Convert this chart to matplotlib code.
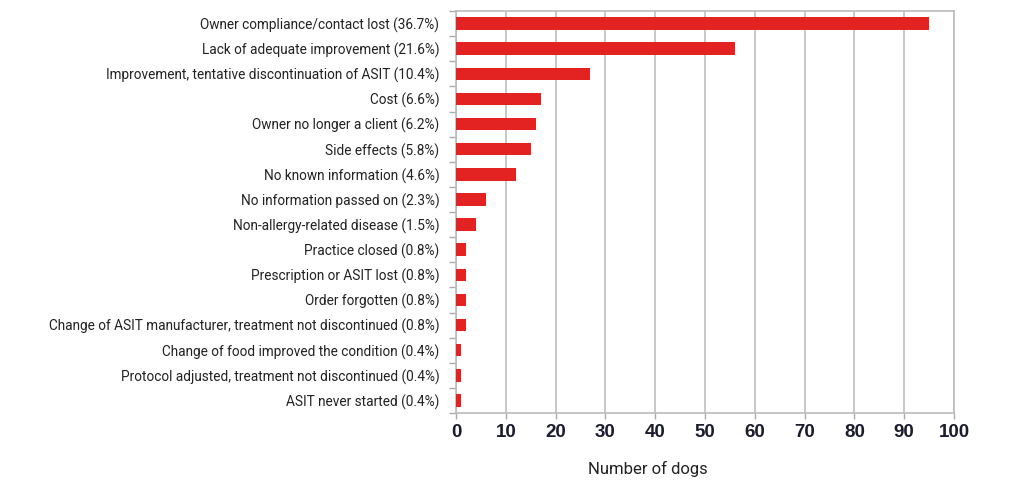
import matplotlib.pyplot as plt
import numpy as np

# reasons for stopping ASIT, top to bottom
reasons = [
    "Owner compliance/contact lost (36.7%)",
    "Lack of adequate improvement (21.6%)",
    "Improvement, tentative discontinuation of ASIT (10.4%)",
    "Cost (6.6%)",
    "Owner no longer a client (6.2%)",
    "Side effects (5.8%)",
    "No known information (4.6%)",
    "No information passed on (2.3%)",
    "Non-allergy-related disease (1.5%)",
    "Practice closed (0.8%)",
    "Prescription or ASIT lost (0.8%)",
    "Order forgotten (0.8%)",
    "Change of ASIT manufacturer, treatment not discontinued (0.8%)",
    "Change of food improved the condition (0.4%)",
    "Protocol adjusted, treatment not discontinued (0.4%)",
    "ASIT never started (0.4%)",
]
dogs = [95, 56, 27, 17, 16, 15, 12, 6, 4, 2, 2, 2, 2, 1, 1, 1]
x_ticks = list(range(0, 101, 10))

fig = plt.figure(figsize=(10.24, 5.01), dpi=100)
ax = fig.add_axes([0.4453, 0.1756, 0.4863, 0.8024])

pos = np.arange(len(reasons))
ax.barh(pos, dogs, height=0.5, color="#e32222", zorder=3)

ax.set_xlim(0, 100)
ax.set_ylim(len(reasons) - 0.5, -0.5)
ax.set_xticks(x_ticks)
ax.set_xticklabels([str(t) for t in x_ticks], fontsize=13.5, fontweight="bold",
                   color="#1c1c30", family="Liberation Sans")
ax.set_yticks(pos)
ax.set_yticklabels(reasons, fontsize=9.8, color="#222222", family="Roboto")
ax.set_yticks(np.arange(-0.5, len(reasons)), minor=True)

ax.tick_params(axis="y", which="major", length=0, pad=12)
ax.tick_params(axis="y", which="minor", length=5, color="#aaaaaa", width=1)
ax.tick_params(axis="x", length=4, color="#aaaaaa", width=1, pad=4)

ax.grid(axis="x", color="#c4c4c4", linewidth=1.3, zorder=0)
for s in ax.spines.values():
    s.set_color("#bbbbbb")
    s.set_linewidth(1.2)

fig.text(648 / 1024, 1 - 469 / 501, "Number of dogs", ha="center", va="center",
         fontsize=12, color="#222222", family="Roboto")

fig.savefig("out.png", dpi=100)
